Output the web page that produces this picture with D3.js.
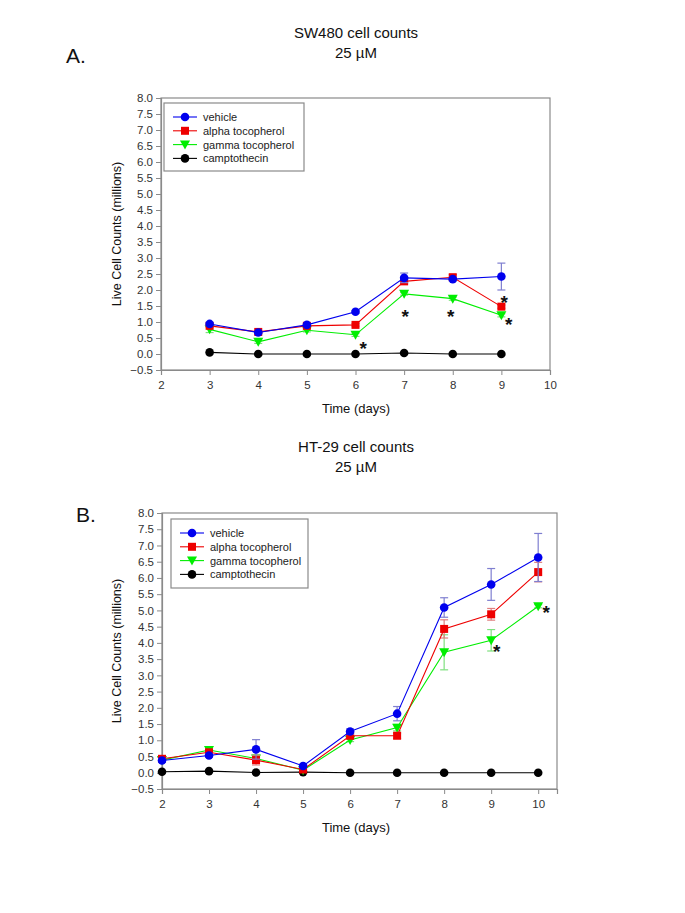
<!DOCTYPE html>
<html><head><meta charset="utf-8">
<script src="https://cdn.jsdelivr.net/npm/d3@7"></script>
<style>body{margin:0;background:#fff}svg{display:block}text{font-family:"Liberation Sans",Arial,sans-serif}</style>
</head><body><svg id="c" width="685" height="913"></svg>
<script>
// ---------- data ----------
const seriesNames = ["vehicle", "alpha tocopherol", "gamma tocopherol", "camptothecin"];
const seriesColors = ["#0000ee", "#ee0000", "#00ee00", "#000000"];
const errColors = ["#7f7fd0", "#e07f7f", "#7fe07f", "#555555"];
const yTicks = [-0.5,0,0.5,1,1.5,2,2.5,3,3.5,4,4.5,5,5.5,6,6.5,7,7.5,8];

// Panel A: SW480
const daysA = [3,4,5,6,7,8,9];
const vehicleA = [0.94,0.67,0.91,1.32,2.38,2.34,2.42];
const alphaA   = [0.88,0.69,0.88,0.91,2.27,2.40,1.48];
const gammaA   = [0.77,0.38,0.74,0.60,1.88,1.73,1.21];
const camptoA  = [0.05,0.00,0.00,0.00,0.03,0.00,0.00];
const vehicleErrA = [0.05,0.03,0.04,0.04,0.15,0.06,0.42];
const alphaErrA   = [0.04,0.03,0.04,0.04,0.05,0.08,0.05];
const gammaErrA   = [0.10,0.05,0.05,0.05,0.04,0.05,0.05];
const camptoErrA  = [0,0,0,0,0,0,0];
const starsA = [[6.16,0.35],[7.02,1.35],[7.96,1.35],[9.06,1.79],[9.15,1.10]];

// Panel B: HT-29
const daysB = [2,3,4,5,6,7,8,9,10];
const vehicleB = [0.38,0.53,0.72,0.21,1.27,1.82,5.09,5.80,6.63];
const alphaB   = [0.43,0.63,0.39,0.10,1.14,1.14,4.43,4.88,6.18];
const gammaB   = [0.39,0.70,0.44,0.08,1.01,1.39,3.71,4.08,5.13];
const camptoB  = [0.03,0.05,0.01,0.02,0.00,0.00,0.00,0.00,0.00];
const vehicleErrB = [0.05,0.05,0.30,0.05,0.08,0.22,0.30,0.49,0.74];
const alphaErrB   = [0.05,0.08,0.15,0.05,0.05,0.08,0.28,0.18,0.30];
const gammaErrB   = [0.05,0.06,0.10,0.04,0.05,0.10,0.54,0.33,0.05];
const camptoErrB  = [0,0,0,0,0,0,0,0,0];
const starsB = [[9.12,3.9],[10.17,5.1]];

const svg = d3.select("#c");

function panel(o){
  const g = svg.append("g");
  const x = d3.scaleLinear().domain(o.xDomain).range([o.left, o.right]);
  const y = d3.scaleLinear().domain([-0.5, 8]).range([o.bottom, o.top]);
  // titles
  g.append("text").attr("x",356).attr("y",o.titleY).attr("text-anchor","middle").attr("font-size",15).attr("fill","#111").text(o.title);
  g.append("text").attr("x",356).attr("y",o.titleY+20).attr("text-anchor","middle").attr("font-size",15).attr("fill","#111").text("25 \u00b5M");
  g.append("text").attr("x",o.letterX).attr("y",o.letterY).attr("font-size",21).attr("fill","#111").text(o.letter);
  // frame
  g.append("rect").attr("x",o.left).attr("y",o.top).attr("width",o.right-o.left).attr("height",o.bottom-o.top)
    .attr("fill","none").attr("stroke","#8a8a8a").attr("stroke-width",1.2);
  // axes
  const ya = g.append("g").attr("transform",`translate(${o.left},0)`)
    .call(d3.axisLeft(y).tickValues(yTicks).tickFormat(d3.format(".1f")).tickSize(5).tickPadding(3));
  const xa = g.append("g").attr("transform",`translate(0,${o.bottom})`)
    .call(d3.axisBottom(x).tickValues(o.xTicks).tickFormat(d3.format("d")).tickSize(5).tickPadding(6));
  [ya,xa].forEach(a=>{
    a.select(".domain").attr("stroke","#8a8a8a").attr("stroke-width",1.2);
    a.selectAll(".tick line").attr("stroke","#8a8a8a");
    a.selectAll(".tick text").attr("font-size",11.5).attr("fill","#333").attr("font-family","Liberation Sans, Arial, sans-serif");
  });
  g.append("text").attr("x",356).attr("y",o.bottom+43).attr("text-anchor","middle").attr("font-size",13).attr("fill","#111").text("Time (days)");
  g.append("text").attr("transform",`translate(121,${(o.top+o.bottom)/2}) rotate(-90)`).attr("text-anchor","middle")
    .attr("font-size",12.5).attr("fill","#111").text("Live Cell Counts (millions)");

  const line = d3.line().x(d=>x(d[0])).y(d=>y(d[1]));
  // draw back-to-front: camptothecin, gamma, alpha, vehicle
  [3,2,1,0].forEach(si=>{
    const pts = o.days.map((d,i)=>[d,o.vals[si][i],o.errs[si][i]]);
    const sg = g.append("g");
    // error bars
    pts.filter(p=>p[2]>0).forEach(p=>{
      const cx=x(p[0]), y1=y(p[1]+p[2]), y2=y(p[1]-p[2]);
      sg.append("line").attr("x1",cx).attr("x2",cx).attr("y1",y1).attr("y2",y2).attr("stroke",errColors[si]).attr("stroke-width",1.2);
      [y1,y2].forEach(yy=>sg.append("line").attr("x1",cx-4).attr("x2",cx+4).attr("y1",yy).attr("y2",yy).attr("stroke",errColors[si]).attr("stroke-width",1.2));
    });
    sg.append("path").datum(pts).attr("d",line).attr("fill","none").attr("stroke",seriesColors[si]).attr("stroke-width",1.1);
    pts.forEach(p=>marker(sg, si, x(p[0]), y(p[1])));
  });
  // asterisks
  o.stars.forEach(s=>{
    g.append("text").attr("x",x(s[0])).attr("y",y(s[1])).attr("dy","0.62em").attr("text-anchor","middle")
      .attr("font-size",19).attr("font-weight","bold").attr("fill","#111").text("*");
  });
  // legend
  const lg = g.append("g");
  lg.append("rect").attr("x",o.lx).attr("y",o.ly).attr("width",o.lw).attr("height",o.lh).attr("fill","#fff").attr("stroke","#8a8a8a").attr("stroke-width",1.2);
  seriesNames.forEach((n,i)=>{
    const yy = o.ly+14+i*13.8;
    lg.append("line").attr("x1",o.lx+9).attr("x2",o.lx+33).attr("y1",yy).attr("y2",yy).attr("stroke",seriesColors[i]).attr("stroke-width",1.1);
    marker(lg, i, o.lx+21, yy);
    lg.append("text").attr("x",o.lx+39).attr("y",yy+4).attr("font-size",11).attr("fill","#222").text(n);
  });
}

function marker(g, si, cx, cy){
  const c = seriesColors[si];
  if(si===0 || si===3){
    g.append("circle").attr("cx",cx).attr("cy",cy).attr("r",4.3).attr("fill",c);
  } else if(si===1){
    g.append("rect").attr("x",cx-4).attr("y",cy-4).attr("width",8).attr("height",8).attr("fill",c);
  } else {
    g.append("path").attr("d",`M${cx-5},${cy-4}L${cx+5},${cy-4}L${cx},${cy+5}Z`).attr("fill",c);
  }
}

panel({title:"SW480 cell counts", titleY:38, letter:"A.", letterX:66, letterY:63,
  left:161, right:550, top:98, bottom:370, xDomain:[2,10], xTicks:[2,3,4,5,6,7,8,9,10],
  days:daysA, vals:[vehicleA,alphaA,gammaA,camptoA], errs:[vehicleErrA,alphaErrA,gammaErrA,camptoErrA],
  stars:starsA, lx:164, ly:103, lw:140, lh:68});

panel({title:"HT-29 cell counts", titleY:452, letter:"B.", letterX:76, letterY:522,
  left:162, right:557, top:513, bottom:789, xDomain:[2,10.4], xTicks:[2,3,4,5,6,7,8,9,10],
  days:daysB, vals:[vehicleB,alphaB,gammaB,camptoB], errs:[vehicleErrB,alphaErrB,gammaErrB,camptoErrB],
  stars:starsB, lx:171, ly:519, lw:137, lh:69});
</script></body></html>
